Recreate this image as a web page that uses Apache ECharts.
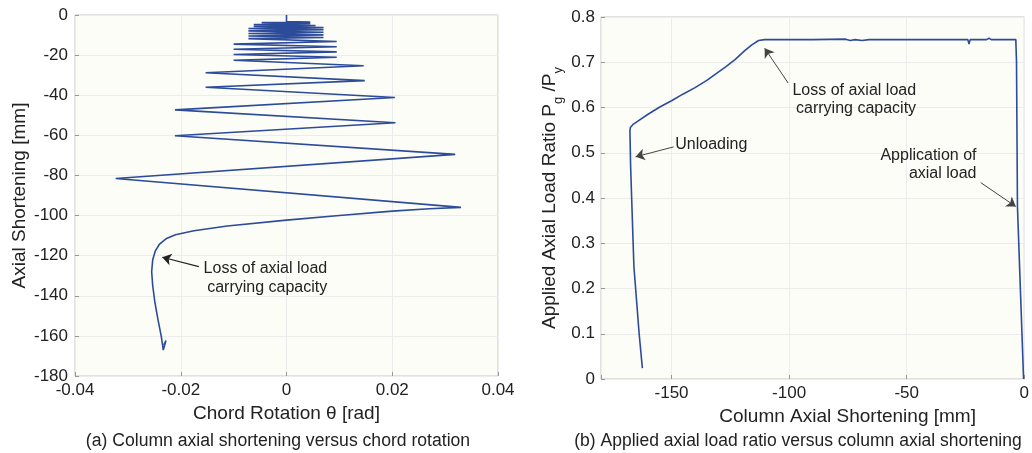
<!DOCTYPE html>
<html>
<head>
<meta charset="utf-8">
<script src="https://cdn.jsdelivr.net/npm/echarts@6/dist/echarts.min.js"></script>
<style>
    html, body { margin: 0; padding: 0; background: #fff; }
    #chart { width: 1032px; height: 453px; }
</style>
</head>
<body>
<div id="chart"></div>
<script>
// (a) 弦转角 - 轴向缩短
var chordRotation = [
    0, 0, 0.0045, -0.0047, 0.0045, -0.0062, 0.0055, -0.0062, 0.0070, -0.0072,
    0.0070, -0.0072, 0.0070, -0.0072, 0.0070, -0.0072, 0.0070, -0.0072,
    0.0095, -0.0100, 0.0095, -0.0100, 0.0095, -0.0100, 0.0095, -0.0100,
    0.0146, -0.0153, 0.0148, -0.0153, 0.0205, -0.0211, 0.0206, -0.0211,
    0.0319, -0.0323, 0.0330,
    0.0270, 0.0200, 0.0100, 0.0000, -0.0112, -0.0175, -0.0210, -0.0228, -0.0240,
    -0.0248, -0.0253, -0.0255, -0.0253, -0.0249, -0.0243, -0.0237, -0.0233, -0.0228, -0.0232
];
var axialShortening = [
    0, -3.3, -3.5, -3.8, -4.3, -4.8, -5.2, -5.7, -6.2, -6.7,
    -7.3, -7.9, -8.6, -9.2, -9.9, -10.5, -11.2, -11.8,
    -13.2, -14.5, -15.8, -17.1, -18.4, -19.7, -21.1, -22.6,
    -25.3, -28.8, -32.7, -36.0, -41.1, -47.3, -53.7, -60.2,
    -69.5, -81.5, -95.9,
    -96.6, -97.8, -100.0, -102.3, -105.2, -107.6, -109.6, -111.6, -114.2,
    -117.6, -122.0, -128.0, -135.0, -143.0, -152.0, -160.0, -167.1, -162.3, -164.5
];

// (b) 柱轴向缩短 - 轴压比
var columnShortening = [
    -0.3, -2.9, -3.3, -3.6,
    -8, -14, -15, -16, -23, -23.5, -24, -40, -66, -69, -72, -74, -76, -90, -100,
    -110.4, -113, -116, -119, -123, -127, -131, -135, -140, -145, -150, -155, -160, -164, -166.5, -167.5, -167.7,
    -167.4, -166.0, -163.8, -162.4
];
var loadRatio = [
    0, 0.381, 0.70, 0.750,
    0.750, 0.750, 0.753, 0.750, 0.750, 0.740, 0.750, 0.750, 0.750, 0.748, 0.750, 0.748, 0.751, 0.750, 0.750,
    0.750, 0.748, 0.738, 0.725, 0.706, 0.690, 0.675, 0.660, 0.644, 0.630, 0.615, 0.601, 0.585, 0.571, 0.562, 0.556, 0.549,
    0.469, 0.248, 0.101, 0.024
];

function pairs(xs, ys) {
    return xs.map(function (x, i) { return [x, ys[i]]; });
}

var font = 'Liberation Sans';
var lineColor = '#2c4b9a';
var labelColor = '#222';
var frameColor = '#c4c4c4';
var gridColor = '#ececec';

function arrow(from, to) {
    return [{ coord: from }, { coord: to }];
}
// 注释文字：用透明的 markPoint 放在数据坐标上
function note(coord, text, align, vAlign, lh) {
    return {
        coord: coord,
        symbol: 'circle', symbolSize: 1,
        itemStyle: { color: 'rgba(0,0,0,0)' },
        label: {
            show: true, formatter: text, position: [0, 0],
            align: align, verticalAlign: vAlign, lineHeight: lh,
            fontFamily: font, fontSize: 16, color: labelColor
        }
    };
}

function valueAxis(extra) {
    var axis = {
        type: 'value',
        nameLocation: 'middle',
        axisLine: { show: false, onZero: false },
        axisTick: { show: true, inside: true, length: 4, lineStyle: { color: '#999' } },
        axisLabel: { color: labelColor, fontSize: 17, margin: 6 },
        splitLine: { lineStyle: { color: gridColor } }
    };
    for (var k in extra) axis[k] = extra[k];
    return axis;
}

var myChart = echarts.init(document.getElementById('chart'));
var option = {
    animation: false,
    textStyle: { fontFamily: font },
    title: [
        {
            text: '(a) Column axial shortening versus chord rotation',
            left: 273, top: 427, textAlign: 'center',
            textStyle: { fontFamily: font, fontSize: 17.6, fontWeight: 'normal', color: labelColor }
        },
        {
            text: '(b) Applied axial load ratio versus column axial shortening',
            left: 793, top: 427, textAlign: 'center',
            textStyle: { fontFamily: font, fontSize: 17.5, fontWeight: 'normal', color: labelColor }
        }
    ],
    grid: [
        { left: 75, top: 15, width: 423, height: 361, show: true,
          backgroundColor: '#fdfdf7', borderColor: frameColor, borderWidth: 1 },
        { left: 601, top: 17, width: 424, height: 362, show: true,
          backgroundColor: '#fdfdf7', borderColor: frameColor, borderWidth: 1 }
    ],
    xAxis: [
        valueAxis({
            gridIndex: 0, min: -0.04, max: 0.04, interval: 0.02,
            name: 'Chord Rotation θ [rad]', nameGap: 26,
            nameTextStyle: { fontFamily: font, fontSize: 19, color: labelColor }
        }),
        valueAxis({
            gridIndex: 1, min: -180, max: 0, splitNumber: 4,
            name: 'Column Axial Shortening [mm]', nameGap: 25,
            nameTextStyle: { fontFamily: font, fontSize: 19, color: labelColor, padding: [0, 0, 0, 70] },
            axisLabel: {
                color: labelColor, fontSize: 17, margin: 6,
                formatter: function (v) { return v === -180 ? '' : v; }
            }
        })
    ],
    yAxis: [
        valueAxis({
            gridIndex: 0, min: -180, max: 0, interval: 20,
            name: 'Axial Shortening [mm]', nameGap: 46,
            nameTextStyle: { fontFamily: font, fontSize: 19, color: labelColor },
            axisLabel: { color: labelColor, fontSize: 17, margin: 7 }
        }),
        valueAxis({
            gridIndex: 1, min: 0, max: 0.8, interval: 0.1,
            name: 'Applied Axial Load Ratio P{sub|g} /P{sub|y}', nameGap: 36,
            nameTextStyle: {
                fontFamily: font, fontSize: 19, color: labelColor,
                rich: { sub: { fontFamily: font, fontSize: 13, color: labelColor, verticalAlign: 'bottom', lineHeight: 30 } }
            }
        })
    ],
    series: [
        {
            name: 'a', type: 'line', xAxisIndex: 0, yAxisIndex: 0,
            data: pairs(chordRotation, axialShortening),
            showSymbol: false, smooth: false,
            lineStyle: { color: lineColor, width: 1.6 },
            markLine: {
                silent: true, symbol: ['none', 'arrow'], symbolSize: 9,
                lineStyle: { color: '#222', width: 1.2, type: 'solid' },
                label: { show: false },
                data: [arrow([-0.01658, -125.5], [-0.0235, -120.8])]
            },
            markPoint: {
                silent: true,
                data: [note([0.0078, -121.8], 'Loss of axial load\ncarrying capacity', 'right', 'top', 19)]
            }
        },
        {
            name: 'b', type: 'line', xAxisIndex: 1, yAxisIndex: 1,
            data: pairs(columnShortening, loadRatio),
            showSymbol: false, smooth: false,
            lineStyle: { color: lineColor, width: 1.6 },
            markLine: {
                silent: true, symbol: ['none', 'arrow'], symbolSize: 9,
                lineStyle: { color: '#444', width: 1, type: 'solid' },
                label: { show: false },
                data: [
                    arrow([-100.4, 0.654], [-110.4, 0.731]),
                    arrow([-149.1, 0.513], [-165.3, 0.491]),
                    arrow([-18.5, 0.434], [-3.6, 0.381])
                ]
            },
            markPoint: {
                silent: true,
                data: [
                    note([-45.8, 0.657], 'Loss of axial load\ncarrying capacity', 'right', 'top', 18),
                    note([-148.2, 0.517], 'Unloading', 'left', 'middle', 18),
                    note([-20.1, 0.512], 'Application of\naxial load', 'right', 'top', 18)
                ]
            }
        }
    ]
};
myChart.setOption(option);
window.addEventListener('resize', function () {
    myChart.resize();
});
</script>
</body>
</html>
